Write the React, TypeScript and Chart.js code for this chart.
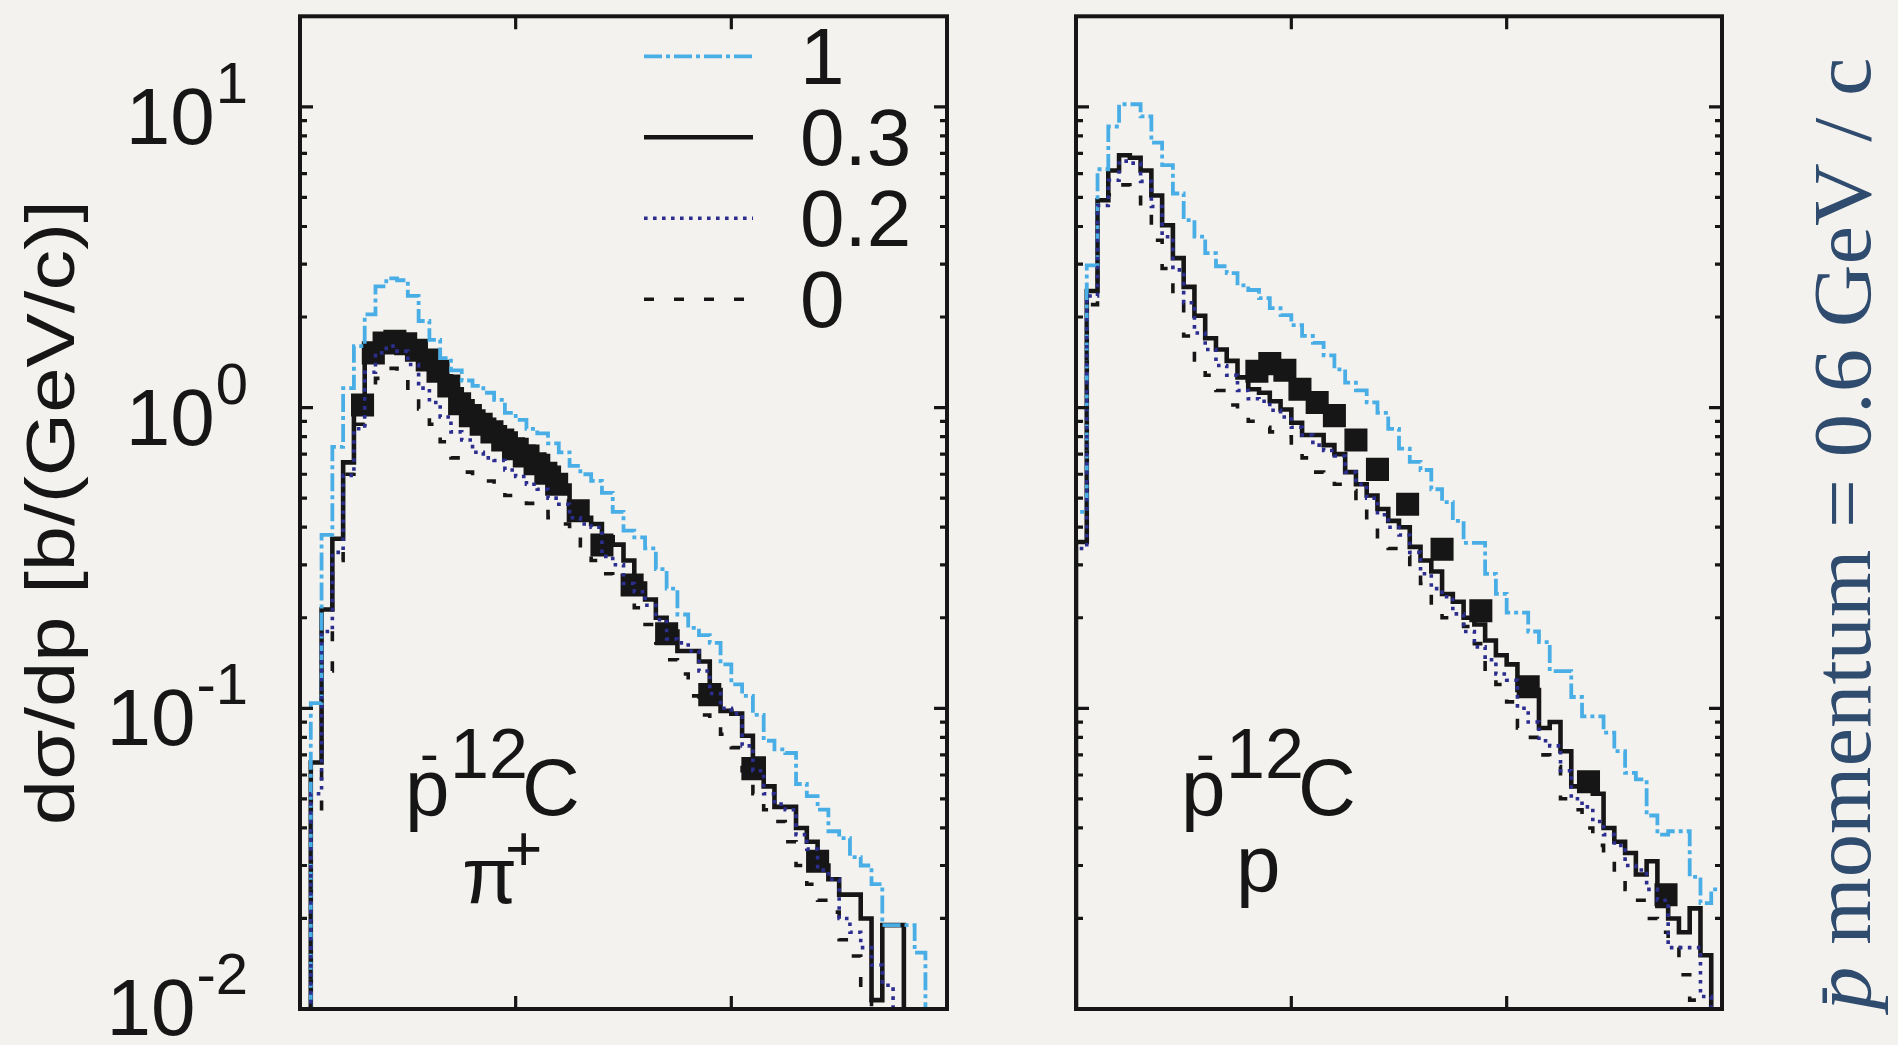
import { useEffect, useRef } from "react";
import { Chart, registerables } from "chart.js";

Chart.register(...registerables);

// ---------- axes ----------
const X_MIN = 0;
const X_MAX = 1.5;
const X_TICKS = [0.5, 1.0];
const Y_MIN = 0.01;
const Y_MAX = 20;
const Y_DECADES = [0.01, 0.1, 1, 10];
const Y_DECADE_EXPONENTS = ["-2", "-1", "0", "1"];
const MINOR_MULTIPLIERS = [2, 3, 4, 5, 6, 7, 8, 9];

const BIN_WIDTH = 0.025;
const HIST_FLOOR = 0.001;

const LEGEND_LABELS = ["1", "0.3", "0.2", "0"];
const Y_TITLE = "dσ/dp [b/(GeV/c)]";
const SIDE_TEXT_P = "p";
const SIDE_TEXT_REST = " momentum = 0.6 GeV / c";

// ---------- π+ panel (left) ----------
const PIP_FIRST_BIN = 1;
const pipK1 = [0.104, 0.377, 0.74, 1.16, 1.6, 2.04, 2.53, 2.69, 2.65, 2.35, 1.94, 1.68, 1.46, 1.33, 1.23, 1.18, 1.12, 1.06, 0.96, 0.91, 0.85, 0.82, 0.76, 0.71, 0.64, 0.6, 0.57, 0.52, 0.45, 0.39, 0.37, 0.34, 0.29, 0.25, 0.205, 0.185, 0.175, 0.165, 0.14, 0.12, 0.11, 0.095, 0.078, 0.073, 0.071, 0.056, 0.051, 0.046, 0.039, 0.037, 0.032, 0.03, 0.026, 0.019, 0.019, 0.019, 0.0154];
const pipK03 = [0.066, 0.213, 0.366, 0.657, 1.05, 1.42, 1.6, 1.66, 1.66, 1.6, 1.5, 1.38, 1.27, 1.15, 1.05, 0.97, 0.91, 0.86, 0.82, 0.78, 0.74, 0.69, 0.63, 0.55, 0.48, 0.43, 0.41, 0.37, 0.35, 0.31, 0.26, 0.23, 0.2, 0.18, 0.155, 0.155, 0.143, 0.115, 0.098, 0.096, 0.081, 0.068, 0.055, 0.047, 0.047, 0.04, 0.036, 0.03, 0.027, 0.024, 0.024, 0.02, 0.0107, 0.019, 0.019];
const pipK02 = [0.052, 0.18, 0.33, 0.595, 0.85, 1.31, 1.52, 1.6, 1.54, 1.39, 1.16, 1.04, 0.93, 0.83, 0.78, 0.71, 0.68, 0.667, 0.62, 0.59, 0.556, 0.535, 0.5, 0.477, 0.43, 0.41, 0.4, 0.32, 0.3, 0.26, 0.244, 0.22, 0.197, 0.17, 0.165, 0.155, 0.133, 0.112, 0.1, 0.096, 0.075, 0.062, 0.052, 0.048, 0.046, 0.038, 0.034, 0.029, 0.027, 0.02, 0.018, 0.016, 0.014, 0.012];
const pipK0 = [0.045, 0.133, 0.31, 0.6, 0.88, 1.1, 1.25, 1.35, 1.32, 1.1, 0.99, 0.88, 0.77, 0.68, 0.61, 0.59, 0.57, 0.55, 0.51, 0.49, 0.48, 0.46, 0.43, 0.41, 0.377, 0.338, 0.31, 0.28, 0.26, 0.235, 0.216, 0.19, 0.165, 0.145, 0.13, 0.11, 0.095, 0.089, 0.082, 0.074, 0.062, 0.052, 0.046, 0.042, 0.036, 0.03, 0.026, 0.023, 0.021, 0.017, 0.015, 0.011];
const pipDataX = [0.145, 0.17, 0.195, 0.22, 0.245, 0.27, 0.295, 0.32, 0.345, 0.37, 0.395, 0.42, 0.445, 0.47, 0.495, 0.52, 0.545, 0.57, 0.595, 0.645, 0.7, 0.77, 0.85, 0.95, 1.05, 1.2];
const pipDataY = [1.02, 1.52, 1.64, 1.66, 1.63, 1.55, 1.44, 1.32, 1.18, 1.03, 0.94, 0.88, 0.83, 0.78, 0.73, 0.69, 0.65, 0.605, 0.556, 0.454, 0.349, 0.257, 0.177, 0.111, 0.063, 0.031];

// ---------- proton panel (right) ----------
const PROTON_FIRST_BIN = 0;
const protonK1 = [0.45, 2.97, 6.2, 8.6, 10.2, 10.2, 9.3, 7.6, 6.4, 5.15, 4.2, 3.7, 3.26, 2.95, 2.8, 2.55, 2.46, 2.31, 2.14, 2.03, 1.88, 1.73, 1.64, 1.49, 1.34, 1.21, 1.14, 1.04, 0.96, 0.85, 0.73, 0.66, 0.62, 0.535, 0.485, 0.42, 0.355, 0.355, 0.28, 0.24, 0.208, 0.208, 0.18, 0.166, 0.133, 0.133, 0.109, 0.094, 0.094, 0.083, 0.072, 0.061, 0.058, 0.044, 0.038, 0.039, 0.039, 0.0275, 0.0225, 0.025];
const protonK03 = [0.357, 2.44, 4.89, 6.14, 6.9, 6.77, 6.14, 5.07, 4.04, 3.14, 2.52, 2.02, 1.7, 1.56, 1.43, 1.26, 1.15, 1.12, 1.05, 0.985, 0.89, 0.81, 0.81, 0.75, 0.7, 0.61, 0.556, 0.51, 0.46, 0.42, 0.4, 0.344, 0.31, 0.285, 0.24, 0.226, 0.2, 0.19, 0.168, 0.15, 0.14, 0.115, 0.115, 0.086, 0.09, 0.072, 0.055, 0.058, 0.052, 0.04, 0.036, 0.033, 0.028, 0.031, 0.022, 0.02, 0.018, 0.0216, 0.0151];
const protonK02 = [0.34, 2.35, 4.7, 5.7, 6.6, 6.5, 5.65, 4.66, 3.7, 2.87, 2.23, 1.77, 1.56, 1.38, 1.28, 1.14, 1.07, 1.05, 0.98, 0.93, 0.86, 0.81, 0.75, 0.72, 0.69, 0.61, 0.556, 0.5, 0.44, 0.4, 0.377, 0.33, 0.28, 0.25, 0.235, 0.206, 0.18, 0.16, 0.145, 0.13, 0.124, 0.1, 0.09, 0.078, 0.075, 0.062, 0.05, 0.047, 0.042, 0.038, 0.035, 0.03, 0.029, 0.025, 0.023, 0.016, 0.016, 0.016, 0.011];
const protonK0 = [0.34, 2.2, 4.5, 5.1, 5.5, 5.0, 4.5, 3.6, 2.9, 2.3, 1.73, 1.44, 1.28, 1.14, 1.02, 0.96, 0.9, 0.86, 0.83, 0.8, 0.75, 0.68, 0.61, 0.58, 0.556, 0.53, 0.48, 0.41, 0.363, 0.34, 0.32, 0.293, 0.26, 0.22, 0.2, 0.195, 0.187, 0.164, 0.126, 0.12, 0.105, 0.086, 0.08, 0.07, 0.064, 0.05, 0.046, 0.04, 0.035, 0.031, 0.028, 0.025, 0.023, 0.02, 0.018, 0.016, 0.013, 0.0107];
const protonDataX = [0.42, 0.45, 0.485, 0.52, 0.56, 0.6, 0.65, 0.7, 0.77, 0.85, 0.94, 1.05, 1.19, 1.37];
const protonDataY = [1.32, 1.4, 1.33, 1.15, 1.04, 0.94, 0.78, 0.623, 0.477, 0.338, 0.211, 0.118, 0.057, 0.024];

// ---------- styles ----------
const BG = "#f4f2ee";
const INK = "#171616";
const C_K1 = "#4aaee6";
const C_K03 = "#171616";
const C_K02 = "#2b2e8e";
const C_K0 = "#171616";
const C_SIDE = "#2f4b6e";
const SANS = '"Liberation Sans", Arial, Helvetica, sans-serif';
const SERIF = '"Liberation Serif", "Times New Roman", serif';

function histPoints(firstBin: number, values: number[]) {
  const pts = [{ x: firstBin * BIN_WIDTH, y: HIST_FLOOR }];
  values.forEach((v, i) => pts.push({ x: (firstBin + i) * BIN_WIDTH, y: v }));
  pts.push({ x: (firstBin + values.length) * BIN_WIDTH, y: HIST_FLOOR });
  return pts;
}

const frameTicks = {
  id: "frameTicks",
  afterDatasetsDraw(chart: any) {
    const { ctx, chartArea: a } = chart;
    const xs = chart.scales.x;
    const ys = chart.scales.y;
    ctx.save();
    ctx.strokeStyle = INK;
    ctx.setLineDash([]);
    ctx.lineWidth = 3.2;
    ctx.beginPath();
    const yTick = (v: number, len: number) => {
      const y = ys.getPixelForValue(v);
      if (y < a.top + 1 || y > a.bottom - 1) return;
      ctx.moveTo(a.left, y);
      ctx.lineTo(a.left + len, y);
      ctx.moveTo(a.right, y);
      ctx.lineTo(a.right - len, y);
    };
    Y_DECADES.forEach((d) => {
      yTick(d, 13);
      MINOR_MULTIPLIERS.forEach((m) => {
        if (d * m < Y_MAX) yTick(d * m, 7);
      });
    });
    X_TICKS.forEach((v) => {
      const x = xs.getPixelForValue(v);
      ctx.moveTo(x, a.bottom);
      ctx.lineTo(x, a.bottom - 13);
      ctx.moveTo(x, a.top);
      ctx.lineTo(x, a.top + 13);
    });
    ctx.stroke();
    ctx.lineWidth = 4;
    ctx.strokeRect(a.left, a.top, a.right - a.left, a.bottom - a.top);
    ctx.restore();
  },
};

const yAxisText = {
  id: "yAxisText",
  afterDraw(chart: any) {
    const { ctx, chartArea: a } = chart;
    const ys = chart.scales.y;
    ctx.save();
    ctx.fillStyle = INK;
    ctx.textBaseline = "alphabetic";
    ctx.textAlign = "right";
    Y_DECADES.forEach((d, i) => {
      const y = ys.getPixelForValue(d);
      const exp = Y_DECADE_EXPONENTS[i];
      const expRight = a.left - 52;
      const baseY = Math.min(y + 37, chart.height - 10);
      ctx.font = `58px ${SANS}`;
      const expW = ctx.measureText(exp).width;
      ctx.fillText(exp, expRight, baseY - 41);
      ctx.font = `80px ${SANS}`;
      ctx.fillText("10", expRight - expW - 1, baseY);
    });
    ctx.translate(a.left - 226, (a.top + a.bottom) / 2);
    ctx.rotate(-Math.PI / 2);
    ctx.scale(1.18, 1);
    ctx.textAlign = "center";
    ctx.font = `69px ${SANS}`;
    ctx.fillText(Y_TITLE, 0, 0);
    ctx.restore();
  },
};

const insideLegend = {
  id: "insideLegend",
  afterDraw(chart: any) {
    const { ctx, chartArea: a } = chart;
    LEGEND_LABELS.forEach((lab, i) => {
      const ds = chart.data.datasets.find((d: any) => d.label === lab);
      if (!ds) return;
      const y = a.top + 40 + i * 81;
      ctx.save();
      ctx.strokeStyle = ds.borderColor;
      ctx.lineWidth = ds.borderWidth;
      ctx.lineCap = "butt";
      ctx.setLineDash(ds.borderDash || []);
      ctx.beginPath();
      ctx.moveTo(a.right - 303, y);
      ctx.lineTo(a.right - 194, y);
      ctx.stroke();
      ctx.setLineDash([]);
      ctx.fillStyle = INK;
      ctx.font = `80px ${SANS}`;
      ctx.textAlign = "left";
      ctx.textBaseline = "alphabetic";
      ctx.fillText(lab, a.right - 147, y + 28);
      ctx.restore();
    });
  },
};

function reactionLabel(second: string, secondSup: string, secondX: number, secondBase: number) {
  return {
    id: "reactionLabel",
    afterDraw(chart: any) {
      const { ctx, chartArea: a } = chart;
      const L = a.left;
      const B = a.bottom;
      ctx.save();
      ctx.fillStyle = INK;
      ctx.textAlign = "left";
      ctx.textBaseline = "alphabetic";
      ctx.font = `80px ${SANS}`;
      ctx.fillText("p", L + 105, B - 194);
      ctx.fillText("C", L + 222, B - 194);
      ctx.font = `56px ${SANS}`;
      ctx.fillText("-", L + 120, B - 236);
      ctx.font = `70px ${SANS}`;
      ctx.fillText("12", L + 150, B - 231);
      ctx.font = `80px ${SANS}`;
      ctx.fillText(second, L + secondX, B - secondBase);
      if (secondSup) {
        ctx.font = `64px ${SANS}`;
        ctx.fillText(secondSup, L + secondX + 43, B - secondBase - 32);
      }
      ctx.restore();
    },
  };
}

const sideText = {
  id: "sideText",
  afterDraw(chart: any) {
    const { ctx, chartArea: a } = chart;
    ctx.save();
    ctx.translate(a.right + 148, (a.top + a.bottom) / 2 + 21);
    ctx.rotate(-Math.PI / 2);
    ctx.scale(1.058, 1);
    ctx.fillStyle = C_SIDE;
    ctx.textAlign = "left";
    ctx.textBaseline = "alphabetic";
    ctx.font = `italic 82px ${SERIF}`;
    const wP = ctx.measureText(SIDE_TEXT_P).width;
    ctx.font = `82px ${SERIF}`;
    const wR = ctx.measureText(SIDE_TEXT_REST).width;
    const x0 = -(wP + wR) / 2;
    ctx.font = `italic 82px ${SERIF}`;
    ctx.fillText(SIDE_TEXT_P, x0, 0);
    ctx.font = `82px ${SERIF}`;
    ctx.fillText(SIDE_TEXT_REST, x0 + wP, 0);
    ctx.font = `58px ${SANS}`;
    ctx.fillText("-", x0 + 4, -30);
    ctx.restore();
  },
};

function makeConfig(
  firstBin: number,
  k1: number[],
  k03: number[],
  k02: number[],
  k0: number[],
  dataX: number[],
  dataY: number[],
  padding: any,
  plugins: any[]
): any {
  const common = { pointRadius: 0, fill: false, stepped: "before", borderCapStyle: "butt", borderJoinStyle: "miter" };
  return {
    type: "line",
    data: {
      datasets: [
        { ...common, label: "0.2", data: histPoints(firstBin, k02), borderColor: C_K02, borderWidth: 3.6, borderDash: [3.6, 5.4] },
        { ...common, label: "0", data: histPoints(firstBin, k0), borderColor: C_K0, borderWidth: 3.6, borderDash: [10, 20] },
        { ...common, label: "1", data: histPoints(firstBin, k1), borderColor: C_K1, borderWidth: 3.8, borderDash: [18, 4, 4, 4] },
        { ...common, label: "0.3", data: histPoints(firstBin, k03), borderColor: C_K03, borderWidth: 4.6, borderDash: [] },
        {
          label: "data",
          data: dataX.map((x, i) => ({ x, y: dataY[i] })),
          showLine: false,
          pointStyle: "rect",
          pointRadius: 16.3,
          pointBackgroundColor: INK,
          pointBorderWidth: 0,
          borderColor: INK,
          backgroundColor: INK,
        },
      ],
    },
    options: {
      responsive: false,
      animation: false,
      events: [],
      layout: { padding },
      plugins: { legend: { display: false }, tooltip: { enabled: false }, title: { display: false } },
      scales: {
        x: { type: "linear", min: X_MIN, max: X_MAX, display: false },
        y: { type: "logarithmic", min: Y_MIN, max: Y_MAX, display: false },
      },
    },
    plugins,
  };
}

export default function App() {
  const leftRef = useRef<HTMLCanvasElement | null>(null);
  const rightRef = useRef<HTMLCanvasElement | null>(null);

  useEffect(() => {
    document.body.style.margin = "0";
    document.body.style.background = BG;
    const left = new Chart(
      leftRef.current as HTMLCanvasElement,
      makeConfig(PIP_FIRST_BIN, pipK1, pipK03, pipK02, pipK0, pipDataX, pipDataY,
        { left: 300, right: 53, top: 13, bottom: 36 },
        [frameTicks, yAxisText, insideLegend, reactionLabel("π", "+", 162, 106)])
    );
    const right = new Chart(
      rightRef.current as HTMLCanvasElement,
      makeConfig(PROTON_FIRST_BIN, protonK1, protonK03, protonK02, protonK0, protonDataX, protonDataY,
        { left: 76, right: 176, top: 13, bottom: 36 },
        [frameTicks, reactionLabel("p", "", 160, 118), sideText])
    );
    return () => {
      left.destroy();
      right.destroy();
    };
  }, []);

  return (
    <div style={{ position: "absolute", left: 0, top: 0, width: 1898, height: 1045, background: BG, overflow: "hidden" }}>
      <canvas ref={leftRef} width={1000} height={1045} style={{ position: "absolute", left: 0, top: 0 }} />
      <canvas ref={rightRef} width={898} height={1045} style={{ position: "absolute", left: 1000, top: 0 }} />
    </div>
  );
}
